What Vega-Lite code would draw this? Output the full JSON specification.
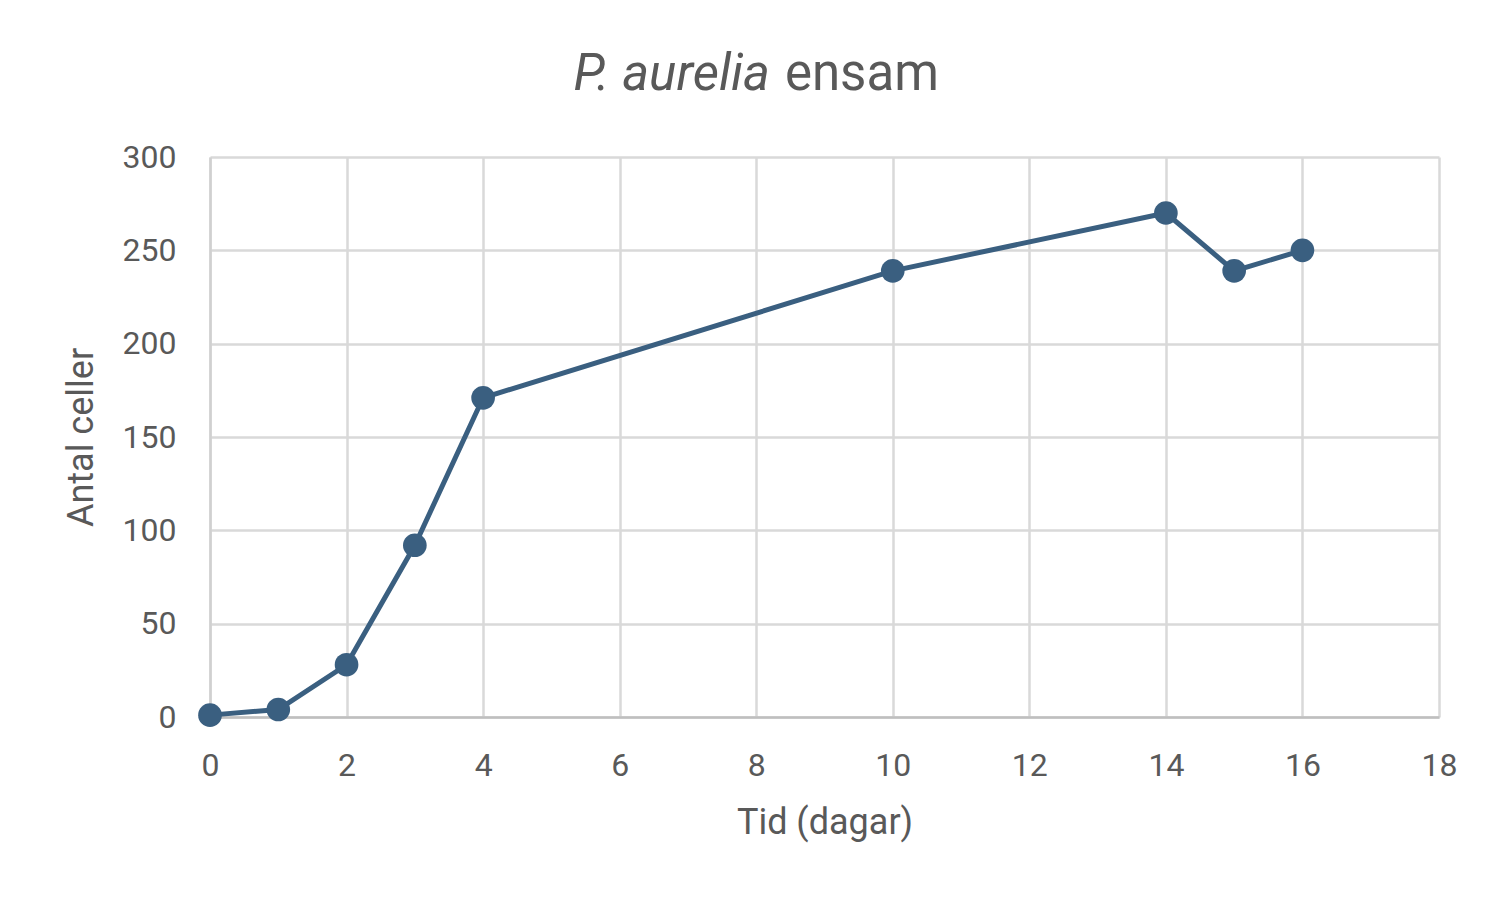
{
  "$schema": "https://vega.github.io/schema/vega-lite/v6.json",
  "autosize": {"type": "none"},
  "padding": {"left": 210, "top": 157, "right": 69, "bottom": 191},
  "width": 1229,
  "height": 560,
  "background": "white",
  "config": {
    "view": {"stroke": null},
    "font": "Roboto",
    "axis": {
      "labelFont": "Roboto",
      "titleFont": "Roboto",
      "labelColor": "#595959",
      "titleColor": "#595959",
      "labelFontSize": 32,
      "titleFontSize": 36,
      "titleFontWeight": "normal",
      "labelFlush": false,
      "gridColor": "#d9d9d9",
      "gridWidth": 2.5,
      "ticks": false
    }
  },
  "data": {
    "values": [
      {"Tid": 0, "Antal": 1},
      {"Tid": 1, "Antal": 4},
      {"Tid": 2, "Antal": 28},
      {"Tid": 3, "Antal": 92},
      {"Tid": 4, "Antal": 171},
      {"Tid": 10, "Antal": 239},
      {"Tid": 14, "Antal": 270},
      {"Tid": 15, "Antal": 239},
      {"Tid": 16, "Antal": 250}
    ]
  },
  "layer": [
    {
      "mark": {"type": "line", "color": "#3a5f80", "strokeWidth": 5},
      "encoding": {
        "x": {
          "field": "Tid",
          "type": "quantitative",
          "title": "Tid (dagar)",
          "scale": {"domain": [0, 18], "nice": false},
          "axis": {
            "values": [0, 2, 4, 6, 8, 10, 12, 14, 16, 18],
            "format": "d",
            "labelPadding": 33,
            "titlePadding": 24,
            "domainColor": "#bfbfbf",
            "domainWidth": 2.5
          }
        },
        "y": {
          "field": "Antal",
          "type": "quantitative",
          "title": "Antal celler",
          "scale": {"domain": [0, 300], "nice": false},
          "axis": {
            "values": [0, 50, 100, 150, 200, 250, 300],
            "format": "d",
            "labelPadding": 34,
            "titlePadding": 22,
            "domainColor": "#d0d0d0",
            "domainWidth": 2.5
          }
        }
      }
    },
    {
      "mark": {"type": "point", "filled": true, "opacity": 1, "color": "#3a5f80", "size": 560},
      "encoding": {
        "x": {"field": "Tid", "type": "quantitative"},
        "y": {"field": "Antal", "type": "quantitative"}
      }
    },
    {
      "data": {"values": [{"del": "P. aurelia"}]},
      "mark": {"type": "text", "align": "right", "baseline": "alphabetic", "fontSize": 51, "fontStyle": "italic", "color": "#595959", "font": "Roboto"},
      "encoding": {
        "x": {"datum": 8.2},
        "y": {"datum": 336},
        "text": {"field": "del"}
      }
    },
    {
      "data": {"values": [{"del": "ensam"}]},
      "mark": {"type": "text", "align": "left", "baseline": "alphabetic", "fontSize": 51, "color": "#595959", "font": "Roboto"},
      "encoding": {
        "x": {"datum": 8.42},
        "y": {"datum": 336},
        "text": {"field": "del"}
      }
    }
  ]
}
